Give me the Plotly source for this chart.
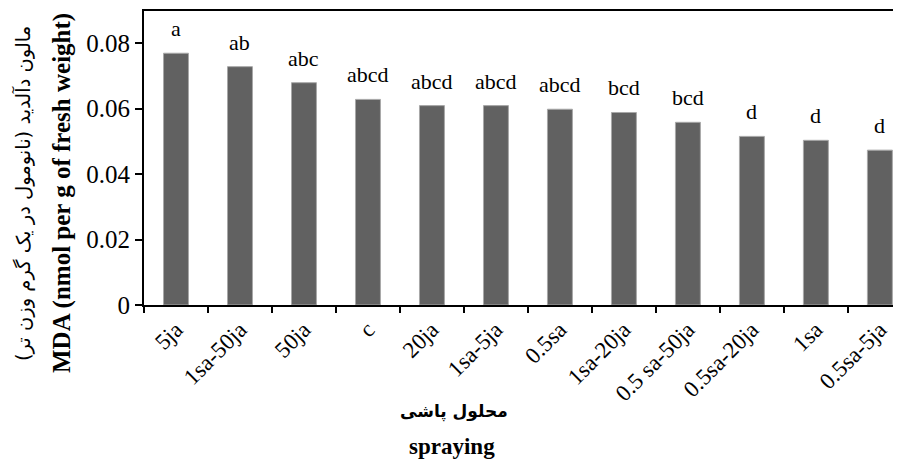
import plotly.graph_objects as go

categories = ["5ja", "1sa-50ja", "50ja", "c", "20ja", "1sa-5ja", "0.5sa",
              "1sa-20ja", "0.5 sa-50ja", "0.5sa-20ja", "1sa", "0.5sa-5ja"]
mda_values = [0.0769, 0.0728, 0.0679, 0.0628, 0.0609, 0.0609, 0.0598,
              0.0588, 0.0558, 0.0515, 0.0503, 0.0473]
group_letters = ["a", "ab", "abc", "abcd", "abcd", "abcd", "abcd",
                 "bcd", "bcd", "d", "d", "d"]
y_ticks = [0, 0.02, 0.04, 0.06, 0.08]
y_tick_labels = ["0", "0.02", "0.04", "0.06", "0.08"]

SERIF = "'Times New Roman', 'Liberation Serif', Tinos, serif"
ARABIC = "'DejaVu Sans'"

# page body has an 8px margin; the figure is sized so it ends at 901x460
OFF = 8
W, H = 901 - OFF, 460 - OFF
ML, MR, MT, MB = 144 - OFF, 0, 11 - OFF, 155
PW, PH = W - ML - MR, H - MT - MB


def px_x(px):
    return (px - OFF - ML) / PW


def px_y(py):
    return (H - MB - (py - OFF)) / PH


fig = go.Figure()
fig.add_trace(go.Bar(
    x=categories, y=mda_values, width=0.39,
    marker=dict(color="#616161", line=dict(color="#a8a8a8", width=1)),
    hoverinfo="skip",
))

annotations = []
for c, v, t in zip(categories, mda_values, group_letters):
    annotations.append(dict(
        x=c, y=v, xref="x", yref="y", text=t, showarrow=False,
        yanchor="bottom", yshift=10,
        font=dict(family=SERIF, size=22, color="#000"),
    ))

annotations += [
    dict(x=px_x(62), y=px_y(193), xref="paper", yref="paper",
         text="<b>MDA (nmol per g of fresh weight)</b>", textangle=-90,
         showarrow=False, xanchor="center", yanchor="middle",
         font=dict(family=SERIF, size=25, color="#000")),
    dict(x=px_x(23), y=px_y(194), xref="paper", yref="paper",
         text="مالون دآلدید (نانومول در یک گرم وزن تر)", textangle=-90,
         showarrow=False, xanchor="center", yanchor="middle",
         font=dict(family=ARABIC, size=19.5, color="#000")),
    dict(x=px_x(454), y=px_y(411), xref="paper", yref="paper",
         text="<b>محلول پاشی</b>", showarrow=False,
         xanchor="center", yanchor="middle",
         font=dict(family=ARABIC, size=17, color="#000")),
    dict(x=px_x(452), y=px_y(447), xref="paper", yref="paper",
         text="<b>spraying</b>", showarrow=False,
         xanchor="center", yanchor="middle",
         font=dict(family=SERIF, size=23, color="#000")),
]

fig.update_layout(
    width=W, height=H,
    margin=dict(l=ML, r=MR, t=MT, b=MB, pad=0, autoexpand=False),
    paper_bgcolor="white", plot_bgcolor="white",
    showlegend=False,
    annotations=annotations,
    font=dict(family=SERIF),
)
fig.update_xaxes(
    type="category", range=[-0.5, 11.33],
    showline=True, linecolor="#000", linewidth=2, mirror=True,
    ticks="outside", ticklen=6, tickwidth=2, tickcolor="#000",
    tickson="boundaries", tickangle=-45,
    tickfont=dict(family=SERIF, size=23, color="#000"),
    showgrid=False, zeroline=False, automargin=False,
)
fig.update_yaxes(
    range=[0, 0.0898],
    tickvals=y_ticks, ticktext=y_tick_labels,
    showline=True, linecolor="#000", linewidth=2,
    ticks="outside", ticklen=7, tickwidth=2, tickcolor="#000",
    tickfont=dict(family=SERIF, size=25, color="#000"),
    showgrid=False, zeroline=False, automargin=False,
)

fig.write_html("out.html")
